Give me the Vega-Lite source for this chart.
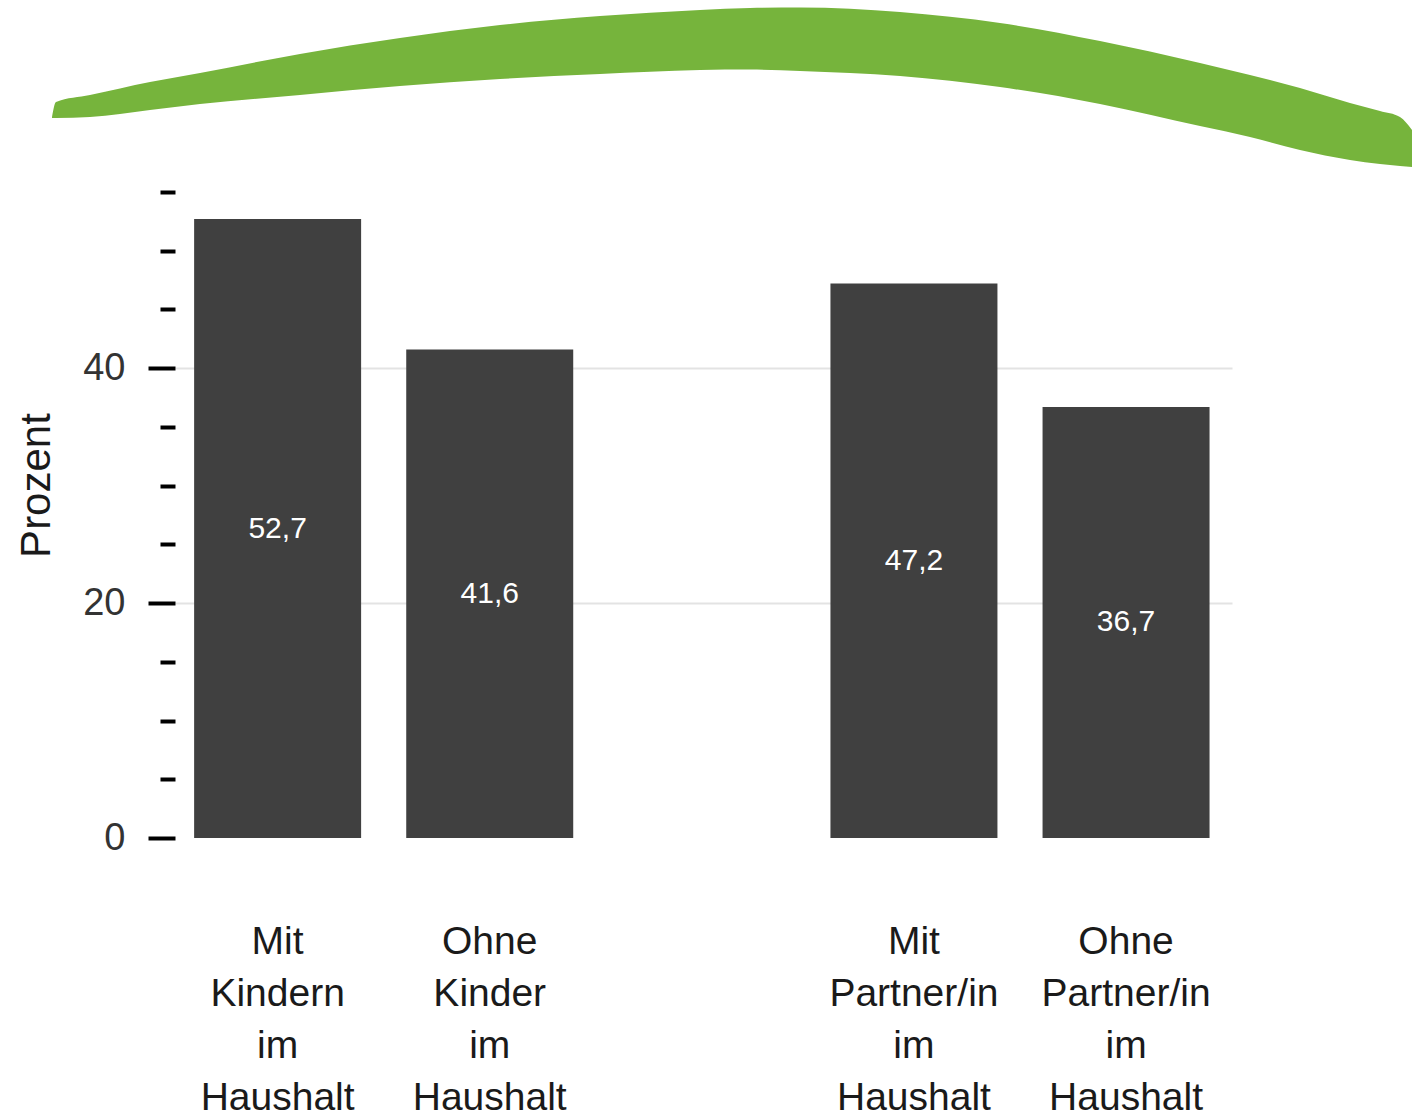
{
  "$schema": "https://vega.github.io/schema/vega-lite/v6.json",
  "autosize": {"type": "none"},
  "width": 1057,
  "height": 646,
  "padding": {"left": 175, "top": 192, "right": 180, "bottom": 279},
  "background": "#ffffff",
  "config": {
    "view": {"stroke": null},
    "font": "Liberation Sans"
  },
  "datasets": {
    "bars": [
      {"gruppe": "Mit|Kindern|im|Haushalt", "prozent": 52.7},
      {"gruppe": "Ohne|Kinder|im|Haushalt", "prozent": 41.6},
      {"gruppe": "Mit|Partner/in|im|Haushalt", "prozent": 47.2},
      {"gruppe": "Ohne|Partner/in|im|Haushalt", "prozent": 36.7}
    ],
    "swoosh": [
      {"u": 52, "top": 117, "bottom": 118},
      {"u": 56, "top": 102, "bottom": 118},
      {"u": 90, "top": 95, "bottom": 117},
      {"u": 150, "top": 82, "bottom": 110},
      {"u": 200, "top": 73, "bottom": 104},
      {"u": 300, "top": 54, "bottom": 95},
      {"u": 400, "top": 38, "bottom": 86},
      {"u": 500, "top": 25, "bottom": 79},
      {"u": 600, "top": 16, "bottom": 74},
      {"u": 700, "top": 10, "bottom": 70},
      {"u": 750, "top": 8, "bottom": 69.5},
      {"u": 800, "top": 7.5, "bottom": 71},
      {"u": 900, "top": 12, "bottom": 76},
      {"u": 1000, "top": 23, "bottom": 87},
      {"u": 1100, "top": 41, "bottom": 104},
      {"u": 1200, "top": 63, "bottom": 126},
      {"u": 1250, "top": 75, "bottom": 137},
      {"u": 1300, "top": 88, "bottom": 150},
      {"u": 1350, "top": 103, "bottom": 160},
      {"u": 1380, "top": 111, "bottom": 164},
      {"u": 1400, "top": 117, "bottom": 166},
      {"u": 1412, "top": 130, "bottom": 167}
    ]
  },
  "layer": [
    {
      "data": {"name": "swoosh"},
      "mark": {"type": "area", "clip": false, "color": "#76b43c", "interpolate": "monotone"},
      "encoding": {
        "x": {"field": "u", "type": "quantitative", "axis": null, "scale": {"domain": [175, 1232], "nice": false, "zero": false}},
        "y": {"field": "top", "type": "quantitative", "axis": null, "scale": {"domain": [192, 838], "reverse": true, "nice": false, "zero": false}},
        "y2": {"field": "bottom"}
      }
    },
    {
      "data": {"name": "bars"},
      "layer": [
        {
          "mark": {"type": "bar", "color": "#404040"},
          "encoding": {
            "x": {
              "field": "gruppe", "type": "nominal", "sort": null,
              "scale": {
                "domain": ["Mit|Kindern|im|Haushalt", "Ohne|Kinder|im|Haushalt", " ", "Mit|Partner/in|im|Haushalt", "Ohne|Partner/in|im|Haushalt"],
                "paddingInner": 0.2127, "paddingOuter": 0.098, "align": 0.46
              },
              "axis": {
                "title": null,
                "labelExpr": "split(datum.label, '|')",
                "labelAngle": 0,
                "labelFontSize": 39,
                "labelLineHeight": 52,
                "labelBaseline": "top",
                "labelPadding": 84,
                "labelColor": "#1a1a1a",
                "ticks": false,
                "tickSize": 0,
                "domain": false,
                "grid": false
              }
            },
            "y": {
              "field": "prozent", "type": "quantitative",
              "scale": {"domain": [0, 55], "nice": false},
              "axis": {
                "title": "Prozent",
                "values": [0, 5, 10, 15, 20, 25, 30, 35, 40, 45, 50, 55],
                "labelExpr": "datum.value % 20 == 0 ? datum.label : ''",
                "tickSize": {"condition": {"test": "datum.value % 20 == 0", "value": 27}, "value": 15},
                "tickWidth": 4,
                "tickColor": "#000000",
                "domain": false,
                "grid": true,
                "gridColor": "#e3e3e3",
                "gridWidth": 2,
                "gridOpacity": {"condition": {"test": "datum.value == 20 || datum.value == 40", "value": 1}, "value": 0},
                "labelFontSize": 38,
                "labelColor": "#333333",
                "labelPadding": 23,
                "titleFontSize": 42,
                "titleFontWeight": "normal",
                "titleColor": "#1a1a1a",
                "titleAngle": -90,
                "titleX": -126,
                "titleY": 293,
                "titleAlign": "center",
                "titleBaseline": "alphabetic"
              }
            }
          }
        },
        {
          "transform": [
            {"calculate": "datum.prozent / 2", "as": "mitte"},
            {"calculate": "replace(format(datum.prozent, '.1f'), '.', ',')", "as": "beschriftung"}
          ],
          "mark": {"type": "text", "color": "#ffffff", "fontSize": 30, "baseline": "middle", "align": "center"},
          "encoding": {
            "x": {"field": "gruppe", "type": "nominal"},
            "y": {"field": "mitte", "type": "quantitative"},
            "text": {"field": "beschriftung"}
          }
        }
      ]
    }
  ],
  "resolve": {"scale": {"x": "independent", "y": "independent"}}
}
